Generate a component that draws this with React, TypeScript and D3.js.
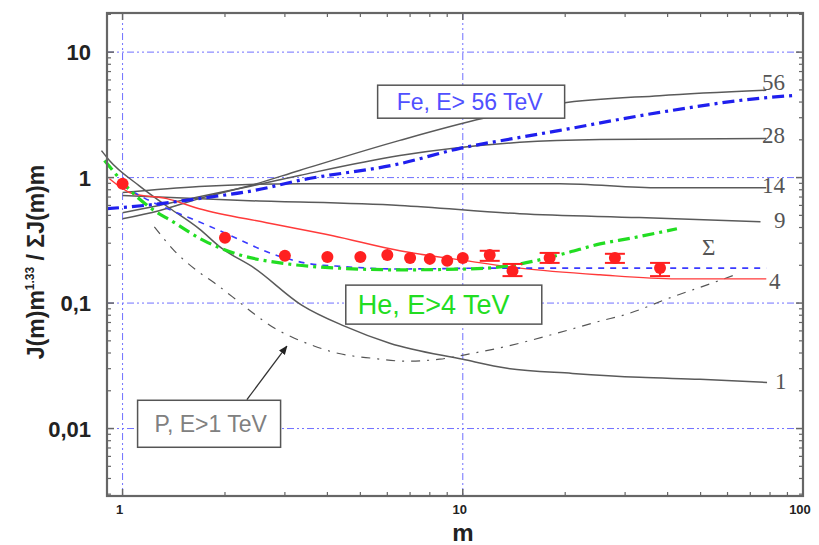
import React from 'react';
import * as d3 from 'd3';

// curves, m (mass number) vs fraction
const m56 = [1, 1.28, 1.68, 2.36, 3.31, 6.53, 11.5, 19.3, 37.9, 78];
const y56 = [0.47, 0.545, 0.68, 0.86, 1.14, 1.98, 2.97, 3.9, 4.5, 4.97];

const m28 = [1, 1.28, 1.68, 2.36, 3.31, 6.53, 14.7, 25.3, 78];
const y28 = [0.525, 0.6, 0.705, 0.85, 1.04, 1.5, 1.91, 2.01, 2.05];

const m14 = [1, 1.68, 3.31, 9.8, 19.3, 37.9, 78];
const y14 = [0.76, 0.85, 0.895, 0.895, 0.895, 0.83, 0.83];

const m9 = [1, 2.36, 6.53, 14.7, 33, 75];
const y9 = [0.72, 0.655, 0.6, 0.515, 0.48, 0.445];

const m4 = [0.915, 1.07, 1.35, 1.68, 2.65, 4.15, 6.53, 10.3, 14.7, 25.3, 42.6, 78];
const y4 = [0.98, 0.745, 0.68, 0.565, 0.437, 0.344, 0.261, 0.217, 0.19, 0.168, 0.156, 0.156];

const m1 = [0.867, 0.915, 1.12, 1.37, 1.68, 1.95, 2.44, 3.36, 4.49, 6.1, 10, 13.5, 21, 33.1, 49.8, 78.4];
const y1 = [1.64, 1.37, 0.86, 0.575, 0.39, 0.275, 0.19, 0.0964, 0.0655, 0.0479, 0.0356, 0.0302, 0.0275, 0.0256, 0.0247, 0.0233];

const mFe = [0.9, 1.16, 1.74, 2.44, 3.31, 6.53, 9.8, 14.7, 19.3, 37.9, 74.8, 96];
const yFe = [0.565, 0.6, 0.69, 0.79, 0.95, 1.29, 1.71, 2.09, 2.38, 3.31, 4.29, 4.53];

const mHe = [0.885, 1.11, 1.24, 1.39, 1.74, 2.18, 3.06, 4.29, 6.53, 10.3, 13.7, 16.8, 20.2, 25.3, 31.6, 42.6];
const yHe = [1.37, 0.69, 0.545, 0.453, 0.313, 0.245, 0.205, 0.19, 0.184, 0.187, 0.198, 0.221, 0.251, 0.296, 0.331, 0.391];

const mSum = [1, 1.2, 1.47, 1.8, 2.18, 2.62, 3.43, 4.5, 6.53, 12.8, 78];
const ySum = [0.86, 0.655, 0.515, 0.41, 0.325, 0.26, 0.209, 0.195, 0.187, 0.19, 0.19];

const mP = [1.24, 1.42, 1.66, 1.86, 2.18, 2.44, 2.8, 3.2, 3.67, 4.29, 5.44, 6.84, 8.55, 10.7, 13.5, 18.9, 25.3, 30.4, 40.6, 53.2, 63.1];
const yP = [0.405, 0.261, 0.18, 0.145, 0.104, 0.0817, 0.063, 0.0525, 0.0453, 0.0398, 0.0363, 0.0344, 0.0357, 0.0398, 0.0453, 0.0575, 0.0718, 0.0817, 0.11, 0.142, 0.168];

// measured points
const mPts = [1, 2, 3, 4, 5, 6, 7, 8, 9, 10, 12, 14, 18, 28, 38];
const yPts = [0.895, 0.331, 0.238, 0.233, 0.233, 0.242, 0.229, 0.225, 0.217, 0.229, 0.242, 0.18, 0.229, 0.229, 0.19];
const errHi = [null, null, null, null, null, null, null, null, null, null, 0.261, 0.205, 0.251, 0.247, 0.209];
const errLo = [null, null, null, null, null, null, null, null, null, null, 0.217, 0.164, 0.209, 0.209, 0.164];

const yTicks = [10, 1, 0.1, 0.01];
const yTickLabels = ['10', '1', '0,1', '0,01'];
const xTicks = [1, 10, 100];
const xTickLabels = ['1', '10', '100'];

const W = 819;
const H = 545;
const left = 107, right = 803, top = 13, bottom = 496;

const x = d3.scaleLog().domain([0.9, 100]).range([left, right]);
const y = d3.scaleLog().domain([0.0029, 20.5]).range([bottom, top]);

const path = (ms: number[], ys: number[]) =>
  d3.line<number>()
    .x(d => x(d))
    .y((_, i) => y(ys[i]))
    .curve(d3.curveMonotoneX)(ms) as string;

const minorX: number[] = [];
[1, 10].forEach(d => { for (let k = 2; k <= 9; k++) minorX.push(d * k); });
const minorY: number[] = [];
[0.001, 0.01, 0.1, 1, 10].forEach(d => { for (let k = 2; k <= 9; k++) minorY.push(d * k); });

const gray = '#5a5a5a';
const gridDash = '7,3,2,3,2,3';
const sans = 'Arial, "Liberation Sans", sans-serif';
const serif = '"Liberation Serif", "DejaVu Serif", serif';

const App = () => {
  const yIn = (v: number) => v >= y.domain()[0] && v <= y.domain()[1];
  return (
    <svg width={W} height={H} style={{ position: 'absolute', left: 0, top: 0, background: '#fff' }}>
      {/* grid */}
      {yTicks.map(t => (
        <line key={'gy' + t} x1={left} x2={right} y1={y(t)} y2={y(t)} stroke="#7070ff" strokeWidth={1} strokeDasharray={gridDash} />
      ))}
      {xTicks.slice(0, 2).map(t => (
        <line key={'gx' + t} x1={x(t)} x2={x(t)} y1={top} y2={bottom} stroke="#7070ff" strokeWidth={1} strokeDasharray={gridDash} />
      ))}

      {/* curves */}
      <path d={path(m56, y56)} fill="none" stroke={gray} strokeWidth={1.5} />
      <path d={path(m28, y28)} fill="none" stroke={gray} strokeWidth={1.5} />
      <path d={path(m14, y14)} fill="none" stroke={gray} strokeWidth={1.5} />
      <path d={path(m9, y9)} fill="none" stroke={gray} strokeWidth={1.5} />
      <path d={path(m1, y1)} fill="none" stroke={gray} strokeWidth={1.5} />
      <path d={path(mP, yP)} fill="none" stroke="#555" strokeWidth={1.2} strokeDasharray="9,7,2,7" />
      <path d={path(m4, y4)} fill="none" stroke="#ff3a3a" strokeWidth={1.4} />
      <path d={path(mSum, ySum)} fill="none" stroke="#3a3aff" strokeWidth={1.6} strokeDasharray="6,6" />
      <path d={path(mHe, yHe)} fill="none" stroke="#22dd22" strokeWidth={3.2} strokeDasharray="12,5,3,5" />
      <path d={path(mFe, yFe)} fill="none" stroke="#1f1fee" strokeWidth={3.2} strokeDasharray="12,5,3,5" />

      {/* data points */}
      {mPts.map((m, i) => (
        <g key={'pt' + i}>
          {errHi[i] != null && (
            <g stroke="#ff2020" strokeWidth={2}>
              <line x1={x(m)} x2={x(m)} y1={y(errHi[i] as number)} y2={y(errLo[i] as number)} />
              <line x1={x(m) - 10} x2={x(m) + 10} y1={y(errHi[i] as number)} y2={y(errHi[i] as number)} />
              <line x1={x(m) - 10} x2={x(m) + 10} y1={y(errLo[i] as number)} y2={y(errLo[i] as number)} />
            </g>
          )}
          <circle cx={x(m)} cy={y(yPts[i])} r={6} fill="#ff2020" />
        </g>
      ))}

      {/* curve labels */}
      <g fontFamily={serif} fontSize={23} fill="#555">
        <text x={762} y={90}>56</text>
        <text x={762} y={143}>28</text>
        <text x={762} y={193}>14</text>
        <text x={774} y={228}>9</text>
        <text x={769} y={289}>4</text>
        <text x={775} y={389}>1</text>
        <text x={702} y={255}>Σ</text>
      </g>

      {/* annotation boxes */}
      <rect x={x(5.62)} y={y(5.45)} width={187} height={33} fill="#fff" stroke="#555" strokeWidth={1.5} />
      <text x={x(5.62) + 19} y={y(5.45) + 25} fontFamily={sans} fontSize={23} fill="#5050ff">Fe, E&gt; 56 TeV</text>

      <rect x={x(4.53)} y={y(0.139)} width={196} height={39} fill="#fff" stroke="#555" strokeWidth={1.5} />
      <text x={x(4.53) + 12} y={y(0.139) + 29} fontFamily={sans} fontSize={27} fill="#22dd22">He, E&gt;4 TeV</text>

      <rect x={x(1.107)} y={y(0.0168)} width={143} height={47} fill="#fff" stroke="#555" strokeWidth={1.5} />
      <text x={x(1.107) + 17} y={y(0.0168) + 32} fontFamily={sans} fontSize={23} fill="#808080">P, E&gt;1 TeV</text>

      {/* arrow */}
      <defs>
        <marker id="ah" viewBox="0 0 10 10" refX="9" refY="5" markerWidth="7" markerHeight="7" orient="auto">
          <path d="M0,1 L10,5 L0,9 z" fill="#222" />
        </marker>
      </defs>
      <line x1={x(2.32)} y1={y(0.017)} x2={x(3.04)} y2={y(0.0453)} stroke="#333" strokeWidth={1.3} markerEnd="url(#ah)" />

      {/* frame and ticks */}
      <rect x={left} y={top} width={right - left} height={bottom - top} fill="none" stroke="#666" strokeWidth={2.2} />
      {xTicks.map(t => (
        <g key={'tx' + t}>
          <line x1={x(t)} x2={x(t)} y1={bottom} y2={bottom - 7} stroke="#666" strokeWidth={1.5} />
          <line x1={x(t)} x2={x(t)} y1={top} y2={top + 7} stroke="#666" strokeWidth={1.5} />
        </g>
      ))}
      {minorX.map(t => (
        <g key={'mx' + t}>
          <line x1={x(t)} x2={x(t)} y1={bottom} y2={bottom - 4} stroke="#666" strokeWidth={1.2} />
          <line x1={x(t)} x2={x(t)} y1={top} y2={top + 4} stroke="#666" strokeWidth={1.2} />
        </g>
      ))}
      {yTicks.map(t => (
        <g key={'ty' + t}>
          <line x1={left} x2={left + 7} y1={y(t)} y2={y(t)} stroke="#666" strokeWidth={1.5} />
          <line x1={right} x2={right - 7} y1={y(t)} y2={y(t)} stroke="#666" strokeWidth={1.5} />
        </g>
      ))}
      {minorY.filter(yIn).map(t => (
        <g key={'my' + t}>
          <line x1={left} x2={left + 4} y1={y(t)} y2={y(t)} stroke="#666" strokeWidth={1.2} />
          <line x1={right} x2={right - 4} y1={y(t)} y2={y(t)} stroke="#666" strokeWidth={1.2} />
        </g>
      ))}

      {/* tick labels */}
      <g fontFamily={sans} fontWeight="bold" fontSize={22} fill="#222" textAnchor="end">
        {yTicks.map((t, i) => (
          <text key={'yl' + t} x={91} y={y(t) + 8}>{yTickLabels[i]}</text>
        ))}
      </g>
      <g fontFamily={sans} fontWeight="bold" fontSize={13} fill="#222" textAnchor="middle">
        {xTicks.map((t, i) => (
          <text key={'xl' + t} x={x(t) - 3} y={514}>{xTickLabels[i]}</text>
        ))}
      </g>

      {/* axis titles */}
      <text x={463} y={541} fontFamily={sans} fontWeight="bold" fontSize={24} fill="#222" textAnchor="middle">m</text>
      <text transform="translate(44,262) rotate(-90)" fontFamily={sans} fontWeight="bold" fontSize={23} fill="#222" textAnchor="middle">
        J(m)m<tspan fontSize={12} dy={-10}>1.33</tspan><tspan dy={10}> / ΣJ(m)m</tspan>
      </text>
    </svg>
  );
};

export default App;
